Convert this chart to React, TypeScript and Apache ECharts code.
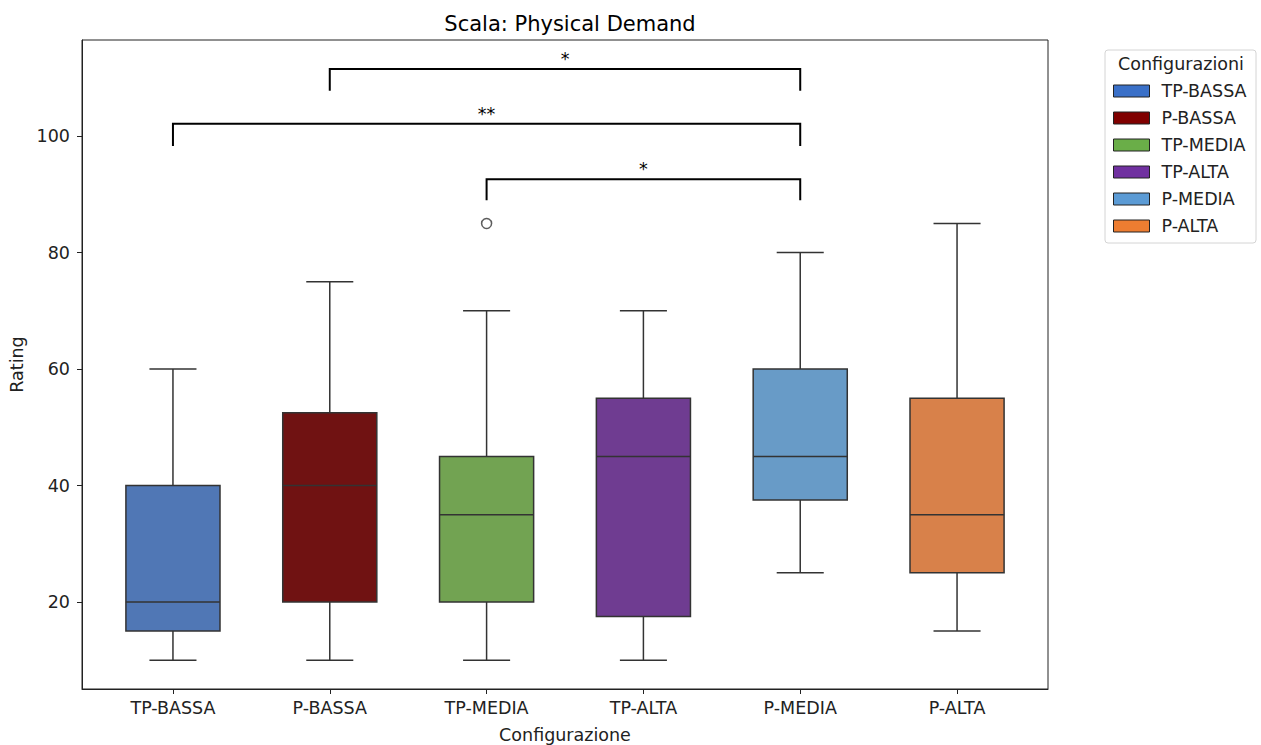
import React, { useEffect, useRef } from "react";
import * as echarts from "echarts";

// Configurations along the x axis
const categories = ["TP-BASSA", "P-BASSA", "TP-MEDIA", "TP-ALTA", "P-MEDIA", "P-ALTA"];

// Box statistics per configuration: [whisker low, Q1, median, Q3, whisker high]
const boxStats: number[][] = [
  [10, 15, 20, 40, 60],
  [10, 20, 40, 52.5, 75],
  [10, 20, 35, 45, 70],
  [10, 17.5, 45, 55, 70],
  [25, 37.5, 45, 60, 80],
  [15, 25, 35, 55, 85],
];

// Outliers: [category index, value]
const outliers: number[][] = [[2, 85]];

// Significance brackets: [from index, to index, bar level, drop level, label]
const brackets: (number | string)[][] = [
  [1, 4, 111.5, 107.8, "*"],
  [0, 4, 102.1, 98.3, "**"],
  [2, 4, 92.6, 89.0, "*"],
];

const yTicks = [20, 40, 60, 80, 100];

const boxFill = ["#5077b5", "#701212", "#72a352", "#6f3c91", "#689bc7", "#d8814a"];
const legendFill = ["#3a70c8", "#800000", "#6aae48", "#7030a0", "#5b9bd5", "#ed7d31"];

const LINE = "#333333";
const BOX_W = 0.6;
const FONT = "DejaVu Sans";
const FS = 17.5;

export default function App() {
  const ref = useRef<HTMLDivElement>(null);

  useEffect(() => {
    if (!ref.current) return;
    const chart = echarts.init(ref.current, undefined, { renderer: "svg" });

    const boxSeries = categories.map((name, i) => ({
      type: "custom",
      name,
      itemStyle: { color: boxFill[i] },
      data: [[i, ...boxStats[i]]],
      z: 3,
      renderItem: (params: any, api: any) => {
        const x = api.value(0);
        const pLo = api.coord([x, api.value(1)]);
        const pQ1 = api.coord([x, api.value(2)]);
        const pMed = api.coord([x, api.value(3)]);
        const pQ3 = api.coord([x, api.value(4)]);
        const pHi = api.coord([x, api.value(5)]);
        const half = api.size([BOX_W, 0])[0] / 2;
        const cap = half / 2;
        const cx = pMed[0];
        const ls = { stroke: LINE, lineWidth: 1.5 };
        return {
          type: "group",
          children: [
            { type: "line", shape: { x1: cx, y1: pLo[1], x2: cx, y2: pQ1[1] }, style: ls },
            { type: "line", shape: { x1: cx, y1: pQ3[1], x2: cx, y2: pHi[1] }, style: ls },
            { type: "line", shape: { x1: cx - cap, y1: pLo[1], x2: cx + cap, y2: pLo[1] }, style: ls },
            { type: "line", shape: { x1: cx - cap, y1: pHi[1], x2: cx + cap, y2: pHi[1] }, style: ls },
            {
              type: "rect",
              shape: { x: cx - half, y: pQ3[1], width: half * 2, height: pQ1[1] - pQ3[1] },
              style: { fill: boxFill[i], stroke: LINE, lineWidth: 1.5 },
            },
            { type: "line", shape: { x1: cx - half, y1: pMed[1], x2: cx + half, y2: pMed[1] }, style: ls },
          ],
        };
      },
    }));

    const bracketSeries = {
      type: "custom",
      name: "brackets",
      data: brackets,
      z: 4,
      renderItem: (params: any, api: any) => {
        const x1 = api.value(0);
        const x2 = api.value(1);
        const top = api.value(2);
        const drop = api.value(3);
        const label = brackets[params.dataIndex][4] as string;
        const a = api.coord([x1, drop]);
        const b = api.coord([x1, top]);
        const c = api.coord([x2, top]);
        const d = api.coord([x2, drop]);
        return {
          type: "group",
          children: [
            {
              type: "polyline",
              shape: { points: [a, b, c, d] },
              style: { stroke: "#000", lineWidth: 2, fill: "none" },
            },
            {
              type: "text",
              style: {
                x: (b[0] + c[0]) / 2,
                y: b[1] - 1,
                text: label,
                align: "center",
                verticalAlign: "bottom",
                fill: "#000",
                font: `${FS}px ${FONT}`,
              },
            },
          ],
        };
      },
    };

    const option: any = {
      animation: false,
      backgroundColor: "#fff",
      title: {
        text: "Scala: Physical Demand",
        left: 565,
        textAlign: "center",
        top: 8,
        textStyle: { fontFamily: FONT, fontSize: 21, fontWeight: "normal", color: "#000" },
      },
      grid: {
        left: 82,
        right: 213,
        top: 40,
        bottom: 56,
        outerBoundsMode: "none",
        containLabel: false,
        show: true,
        borderColor: "#222",
        borderWidth: 1,
      },
      legend: {
        data: categories.map((name, i) => ({
          name,
          icon: "rect",
          itemStyle: { color: legendFill[i], borderColor: "#222", borderWidth: 1 },
        })),
        orient: "vertical",
        left: 1113,
        top: 82,
        padding: 0,
        itemWidth: 36,
        itemHeight: 12,
        itemGap: 9,
        selectedMode: false,
        textStyle: {
          fontFamily: FONT,
          fontSize: FS,
          color: "#222",
          padding: [0, 0, 0, 7],
        },
      },
      graphic: [
        {
          type: "rect",
          shape: { x: 1105, y: 50, width: 151, height: 193, r: 3 },
          style: { fill: "none", stroke: "#d4d4d4", lineWidth: 1 },
        },
        {
          type: "text",
          style: {
            x: 1181,
            y: 64,
            text: "Configurazioni",
            align: "center",
            verticalAlign: "middle",
            fill: "#222",
            font: `${FS}px ${FONT}`,
          },
        },
      ],
      xAxis: {
        type: "value",
        min: -0.58,
        max: 5.58,
        name: "Configurazione",
        nameLocation: "middle",
        nameGap: 37,
        nameTextStyle: { fontFamily: FONT, fontSize: FS, color: "#222" },
        splitLine: { show: false },
        axisLine: { show: true, onZero: false, lineStyle: { color: "#222" } },
        axisTick: {
          show: true,
          length: 5,
          lineStyle: { color: "#222" },
          customValues: categories.map((_, i) => i),
        },
        axisLabel: {
          customValues: categories.map((_, i) => i),
          formatter: (v: number) => categories[Math.round(v)] ?? "",
          fontFamily: FONT,
          fontSize: FS,
          color: "#222",
          margin: 10,
        },
      },
      yAxis: {
        type: "value",
        min: 5.06,
        max: 116.5,
        name: "Rating",
        nameLocation: "middle",
        nameGap: 55,
        nameTextStyle: { fontFamily: FONT, fontSize: FS, color: "#222" },
        splitLine: { show: false },
        axisLine: { show: true, onZero: false, lineStyle: { color: "#222" } },
        axisTick: { show: true, length: 5, lineStyle: { color: "#222" }, customValues: yTicks },
        axisLabel: {
          customValues: yTicks,
          fontFamily: FONT,
          fontSize: FS,
          color: "#222",
          margin: 12,
        },
      },
      series: [
        ...boxSeries,
        {
          type: "scatter",
          name: "outliers",
          data: outliers,
          symbol: "circle",
          symbolSize: 10,
          itemStyle: { color: "#fff", borderColor: LINE, borderWidth: 1.5 },
          z: 5,
        },
        bracketSeries,
      ],
    };

    chart.setOption(option);
    return () => chart.dispose();
  }, []);

  return (
    <div
      ref={ref}
      style={{ position: "fixed", left: 0, top: 0, width: 1261, height: 745, background: "#fff" }}
    />
  );
}
